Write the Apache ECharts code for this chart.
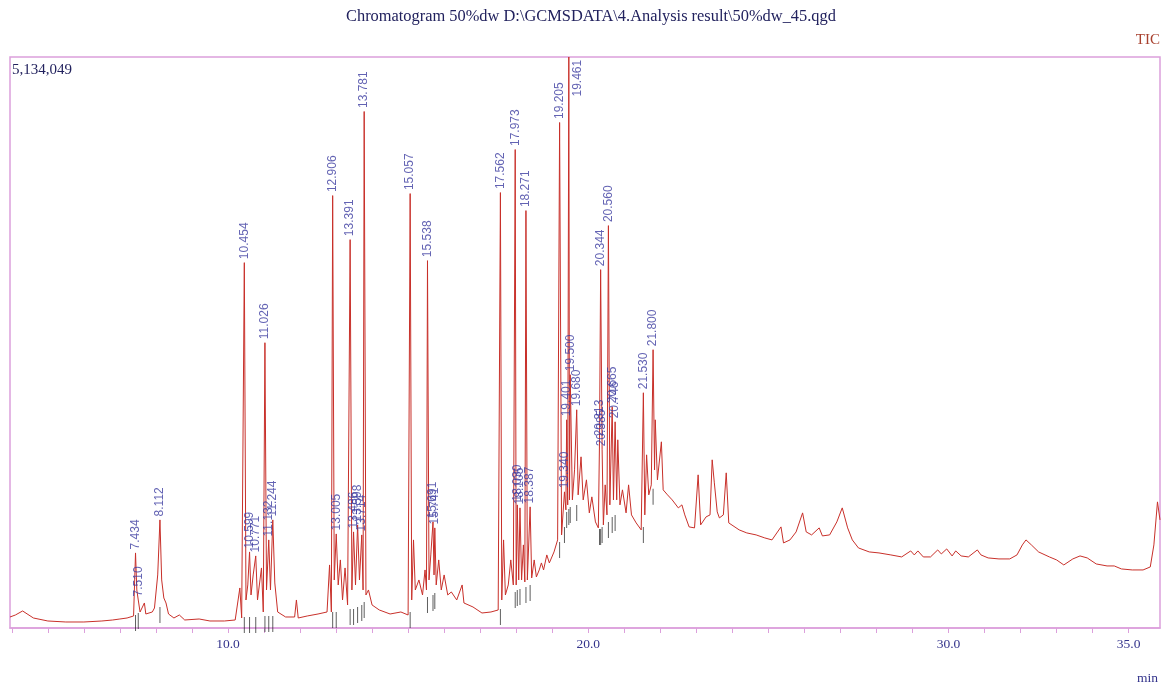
<!DOCTYPE html>
<html>
<head>
<meta charset="utf-8">
<title>Chromatogram 50%dw</title>
<script src="https://cdn.jsdelivr.net/npm/echarts@6/dist/echarts.min.js"></script>
<style>
  html, body { margin: 0; padding: 0; background: #fff; }
  #main { width: 1169px; height: 688px; }
</style>
</head>
<body>
<div id="main"></div>
<script>
// full scale of the TIC window
const topValue = 5134049;
const timeMin = 3.95;
const timeMax = 35.87;

// TIC trace, [retention time (min), intensity]
const tic = [
  [3.95, 99000], [4.10, 117000], [4.30, 153000], [4.60, 90000], [5.0, 63000], [5.5, 54000],
  [6.0, 54000], [6.5, 63000], [6.8, 72000], [7.0, 81000], [7.2, 90000],
  [7.38, 108000], [7.434, 675000], [7.47, 342000], [7.510, 252000], [7.56, 144000],
  [7.68, 225000], [7.72, 126000], [7.90, 144000], [7.96, 180000], [8.05, 477000],
  [8.112, 972000], [8.16, 432000], [8.22, 270000], [8.28, 225000], [8.35, 126000],
  [8.5, 90000], [8.65, 117000], [8.8, 72000], [9.2, 81000], [9.5, 63000], [9.9, 63000],
  [10.2, 72000], [10.33, 360000], [10.38, 90000], [10.454, 3285000], [10.50, 252000],
  [10.55, 387000], [10.599, 684000], [10.64, 297000], [10.70, 477000], [10.771, 648000],
  [10.82, 252000], [10.93, 540000], [10.98, 144000], [11.026, 2565000], [11.07, 342000],
  [11.132, 792000], [11.18, 342000], [11.244, 972000], [11.30, 405000], [11.38, 144000],
  [11.6, 99000], [11.85, 99000], [11.9, 252000], [11.95, 90000], [12.2, 108000],
  [12.5, 126000], [12.75, 144000], [12.82, 567000], [12.87, 144000], [12.906, 3888000],
  [12.95, 432000], [13.005, 846000], [13.06, 387000], [13.12, 612000], [13.18, 252000],
  [13.25, 540000], [13.32, 207000], [13.391, 3492000], [13.44, 342000], [13.486, 864000],
  [13.54, 387000], [13.598, 927000], [13.65, 432000], [13.714, 837000], [13.75, 342000],
  [13.781, 4644000], [13.83, 297000], [13.9, 342000], [14.0, 207000], [14.2, 162000],
  [14.5, 126000], [14.8, 144000], [15.0, 117000], [15.057, 3906000], [15.10, 252000],
  [15.15, 792000], [15.2, 342000], [15.3, 432000], [15.4, 297000], [15.47, 522000],
  [15.51, 342000], [15.538, 3303000], [15.58, 432000], [15.63, 657000], [15.691, 954000],
  [15.72, 477000], [15.741, 900000], [15.78, 387000], [15.85, 612000], [15.92, 342000],
  [16.0, 477000], [16.1, 297000], [16.2, 324000], [16.35, 252000], [16.5, 387000],
  [16.55, 225000], [16.8, 189000], [17.05, 135000], [17.3, 144000], [17.5, 162000],
  [17.562, 3915000], [17.60, 252000], [17.65, 792000], [17.70, 297000], [17.78, 387000],
  [17.85, 612000], [17.92, 387000], [17.973, 4302000], [18.00, 387000], [18.030, 1107000],
  [18.07, 432000], [18.105, 1080000], [18.15, 432000], [18.20, 747000], [18.24, 414000],
  [18.271, 3753000], [18.31, 432000], [18.387, 1089000], [18.43, 450000], [18.50, 612000],
  [18.56, 459000], [18.64, 522000], [18.70, 585000], [18.76, 522000], [18.85, 657000],
  [18.92, 585000], [19.05, 684000], [19.15, 792000], [19.205, 4545000], [19.26, 837000],
  [19.340, 1224000], [19.38, 1062000], [19.401, 1872000], [19.43, 1107000],
  [19.461, 5134049], [19.48, 1152000], [19.500, 2277000], [19.56, 1152000],
  [19.62, 1422000], [19.680, 1962000], [19.72, 1197000], [19.80, 1539000],
  [19.86, 1152000], [19.95, 1332000], [20.03, 1035000], [20.10, 1179000], [20.20, 954000],
  [20.28, 900000], [20.313, 1692000], [20.344, 3222000], [20.385, 1602000], [20.42, 927000],
  [20.47, 1287000], [20.52, 1017000], [20.560, 3618000], [20.60, 1107000], [20.665, 1989000],
  [20.70, 1152000], [20.746, 1854000], [20.79, 1152000], [20.82, 1692000], [20.88, 1107000],
  [20.95, 1242000], [21.05, 1035000], [21.12, 1287000], [21.2, 1017000], [21.33, 945000],
  [21.47, 882000], [21.530, 2115000], [21.57, 1017000], [21.62, 1557000], [21.68, 1197000],
  [21.75, 1287000], [21.800, 2502000], [21.84, 1422000], [21.86, 1872000], [21.92, 1332000],
  [22.03, 1674000], [22.08, 1242000], [22.2, 1197000], [22.33, 1152000], [22.5, 1080000],
  [22.6, 1107000], [22.68, 1017000], [22.8, 909000], [22.95, 900000], [23.05, 1377000],
  [23.12, 927000], [23.27, 999000], [23.38, 1017000], [23.44, 1512000], [23.5, 1305000],
  [23.58, 1044000], [23.64, 990000], [23.75, 1017000], [23.83, 1395000], [23.9, 945000],
  [24.19, 882000], [24.4, 855000], [24.66, 837000], [24.9, 810000], [25.1, 792000],
  [25.35, 909000], [25.42, 765000], [25.6, 792000], [25.77, 864000], [25.95, 1035000],
  [26.05, 864000], [26.2, 837000], [26.41, 900000], [26.5, 828000], [26.7, 837000],
  [26.9, 954000], [27.05, 1080000], [27.2, 900000], [27.33, 792000], [27.5, 720000],
  [27.8, 684000], [28.07, 675000], [28.4, 657000], [28.7, 639000], [28.95, 693000],
  [29.05, 657000], [29.15, 693000], [29.3, 639000], [29.5, 639000], [29.7, 702000],
  [29.8, 666000], [29.95, 711000], [30.1, 648000], [30.2, 693000], [30.35, 648000],
  [30.55, 639000], [30.8, 702000], [30.9, 657000], [31.1, 630000], [31.4, 621000],
  [31.7, 621000], [31.9, 657000], [32.05, 747000], [32.15, 792000], [32.3, 747000],
  [32.5, 684000], [32.8, 639000], [33.0, 612000], [33.2, 567000], [33.45, 621000],
  [33.65, 648000], [33.85, 630000], [34.1, 576000], [34.4, 558000], [34.6, 558000],
  [34.8, 531000], [35.1, 522000], [35.4, 522000], [35.6, 549000], [35.7, 747000],
  [35.8, 1134000], [35.87, 972000]
];

// integrated peaks: retention time and the baseline under each one
const peakTimes = [
  7.434, 7.510, 8.112, 10.454, 10.599, 10.771, 11.026, 11.132, 11.244, 12.906,
  13.005, 13.391, 13.486, 13.598, 13.714, 13.781, 15.057, 15.538, 15.691, 15.741,
  17.562, 17.973, 18.030, 18.105, 18.271, 18.387, 19.205, 19.340, 19.401, 19.461,
  19.500, 19.680, 20.313, 20.344, 20.385, 20.560, 20.665, 20.746, 21.530, 21.800
];
const peakBase = [
  90000, 108000, 162000, 72000, 72000, 72000, 81000, 81000, 81000, 117000,
  117000, 144000, 144000, 162000, 180000, 207000, 117000, 252000, 270000, 288000,
  144000, 297000, 315000, 324000, 342000, 360000, 747000, 882000, 1017000, 1044000,
  1062000, 1080000, 864000, 864000, 882000, 927000, 972000, 990000, 882000, 1224000
];

const minorTicks = [4, 5, 6, 7, 8, 9, 10, 11, 12, 13, 14, 15, 16, 17, 18, 19, 20,
  21, 22, 23, 24, 25, 26, 27, 28, 29, 30, 31, 32, 33, 34, 35];
const majorTicks = [10, 20, 30, 35];

const heightAt = new Map(tic.map(p => [p[0], p[1]]));

const pink = '#dca0dc';
const navy = '#34348c';

const labelData = peakTimes.map(t => {
  const item = { value: [t, heightAt.get(t)] };
  if (heightAt.get(t) >= topValue) {
    // off-scale peak: label sits beside the line, inside the frame
    item.label = { position: [9, 40] };
  }
  return item;
});

const chart = echarts.init(document.getElementById('main'));
chart.setOption({
  animation: false,
  backgroundColor: '#fff',
  title: [
    {
      text: 'Chromatogram 50%dw D:\\GCMSDATA\\4.Analysis result\\50%dw_45.qgd',
      left: 346, top: 9, padding: 0,
      textStyle: { fontFamily: 'Liberation Serif', fontSize: 16.4, fontWeight: 'normal', color: '#22225e' }
    },
    {
      text: 'TIC', right: 9, top: 33, padding: 0,
      textStyle: { fontFamily: 'Liberation Serif', fontSize: 15, fontWeight: 'normal', color: '#a8402e' }
    },
    {
      text: topValue.toLocaleString('en-US'), left: 12, top: 63, padding: 0,
      textStyle: { fontFamily: 'Liberation Serif', fontSize: 15, fontWeight: 'normal', color: '#22225e' }
    },
    {
      text: 'min', right: 11, top: 671, padding: 0,
      textStyle: { fontFamily: 'Liberation Serif', fontSize: 13.5, fontWeight: 'normal', color: navy }
    }
  ],
  grid: {
    left: 10, right: 9, top: 57, bottom: 60,
    show: true, borderColor: pink, borderWidth: 1.5, backgroundColor: '#fff'
  },
  xAxis: {
    type: 'value',
    min: timeMin, max: timeMax,
    splitLine: { show: false },
    axisLine: { lineStyle: { color: pink, width: 1.5 } },
    axisTick: { show: true, length: 5, customValues: minorTicks, lineStyle: { color: pink } },
    axisLabel: {
      customValues: majorTicks, margin: 9,
      formatter: v => v.toFixed(1),
      fontFamily: 'Liberation Serif', fontSize: 13.5, color: navy
    }
  },
  yAxis: {
    type: 'value', min: 0, max: topValue, show: false
  },
  series: [
    {
      name: 'TIC',
      type: 'line',
      data: tic,
      showSymbol: false,
      symbol: 'none',
      sampling: false,
      lineStyle: { color: '#c8302a', width: 1 },
      z: 2
    },
    {
      name: 'peak marks',
      type: 'scatter',
      data: peakTimes.map((t, i) => [t, peakBase[i]]),
      symbol: 'rect',
      symbolSize: [1, 16],
      symbolOffset: [0, 5],
      itemStyle: { color: '#2a2a2a', opacity: 0.75 },
      z: 3
    },
    {
      name: 'peak labels',
      type: 'scatter',
      data: labelData,
      symbolSize: 1,
      itemStyle: { color: 'rgba(0,0,0,0)' },
      label: {
        show: true,
        formatter: p => p.value[0].toFixed(3),
        position: 'top',
        rotate: 90,
        align: 'left',
        verticalAlign: 'middle',
        distance: 3,
        fontFamily: 'Liberation Sans',
        fontSize: 12,
        color: '#3c3ca0'
      },
      z: 4
    }
  ]
});
</script>
</body>
</html>
